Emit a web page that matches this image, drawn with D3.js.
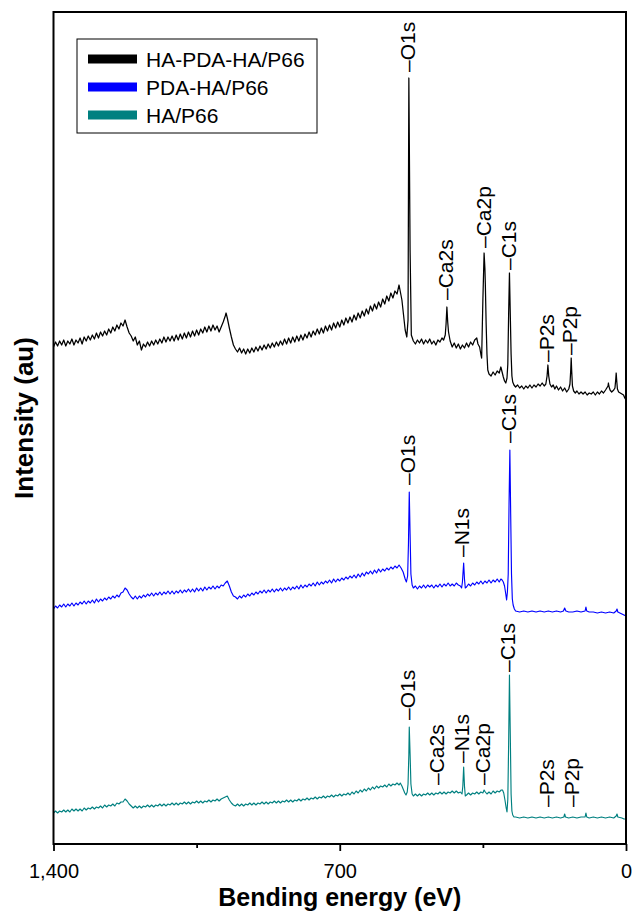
<!DOCTYPE html>
<html><head><meta charset="utf-8">
<script src="https://cdn.jsdelivr.net/npm/d3@7"></script>
<style>body{margin:0;background:#fff}svg{display:block;font-family:Arial,"Liberation Sans",Helvetica,sans-serif}</style>
</head><body><svg id="c" width="636" height="913"></svg>
<script>
// ---------- data ----------
const seriesNames = ["HA-PDA-HA/P66", "PDA-HA/P66", "HA/P66"];
const seriesColors = ["#000000", "#0000ff", "#008080"];
const xTicks = [1400, 700, 0];
const xTickLabels = ["1,400", "700", "0"];
const xMinorTicks = [1050, 350];
const xTitle = "Bending energy (eV)";
const yTitle = "Intensity (au)";

// [binding energy (eV), intensity (au)]
const hapdaha = [
[1400,497],[1395,502],[1390,498],[1385,503],[1380,499],[1375,504],[1370,498],[1365,503],[1360,500],[1355,505],
[1350,499],[1345,504],[1340,501],[1335,506],[1330,500],[1325,507],[1320,503],[1315,508],[1310,504],[1305,509],
[1300,505],[1295,511],[1290,506],[1285,512],[1280,508],[1275,513],[1270,509],[1265,515],[1260,511],[1255,517],
[1250,513],[1245,519],[1240,515],[1235,521],[1230,518],[1225,524],[1220,517],[1215,511],[1210,508],[1205,503],
[1200,507],[1195,499],[1190,503],[1185,494],[1180,500],[1175,497],[1170,502],[1165,498],[1160,503],[1155,499],
[1150,504],[1145,500],[1140,505],[1135,501],[1130,507],[1125,502],[1120,507],[1115,503],[1110,508],[1105,503],
[1100,509],[1095,504],[1090,510],[1085,505],[1080,511],[1075,506],[1070,512],[1065,507],[1060,513],[1055,508],
[1050,514],[1045,509],[1040,515],[1035,511],[1030,517],[1025,512],[1020,518],[1015,513],[1010,519],[1005,514],
[1000,518],[995,512],[990,517],[985,522],[980,528],[978,531],[975,526],[970,516],[965,507],[960,499],
[955,495],[950,492],[945,496],[940,491],[935,495],[930,490],[925,495],[920,491],[915,496],[910,492],
[905,497],[900,493],[895,498],[890,494],[885,499],[880,495],[875,500],[870,496],[865,501],[860,497],
[855,502],[850,498],[845,503],[840,499],[835,505],[830,500],[825,506],[820,501],[815,507],[810,502],
[805,508],[800,503],[795,509],[790,504],[785,510],[780,506],[775,512],[770,507],[765,513],[760,509],
[755,515],[750,510],[745,516],[740,511],[735,518],[730,513],[725,519],[720,514],[715,521],[710,516],
[705,522],[700,517],[695,524],[690,519],[685,526],[680,521],[675,527],[670,522],[665,529],[660,524],
[655,531],[650,526],[645,533],[640,528],[635,535],[630,530],[625,538],[620,533],[615,540],[610,535],
[605,542],[600,537],[595,545],[590,540],[585,548],[580,543],[575,551],[570,546],[565,553],[560,550],
[555,559],[548,544],[540,514],[536,507],[533,524],[531,766],[528,594],[525,509],[520,503],[515,500],
[510,504],[505,501],[500,505],[495,500],[490,504],[485,501],[480,505],[475,500],[470,503],[465,499],
[460,504],[455,502],[450,506],[446,504],[442,509],[440,520],[438,537],[436,522],[434,512],[430,503],
[425,497],[420,501],[415,496],[410,500],[405,495],[400,499],[395,496],[390,501],[385,497],[380,502],
[375,499],[370,504],[365,506],[362,500],[358,497],[355,490],[353,486],[350,544],[347,591],[345,575],
[344,560],[342,520],[340,490],[338,474],[335,470],[330,468],[325,472],[320,469],[315,473],[310,471],
[306,477],[303,472],[300,467],[297,463],[294,461],[291,466],[289,480],[287,530],[285,571],[283,530],
[281,490],[279,468],[277,462],[274,459],[270,457],[265,459],[260,456],[255,458],[250,455],[245,458],
[240,456],[235,459],[230,456],[225,459],[220,457],[215,460],[210,458],[205,461],[200,458],[196,460],
[193,468],[191,479],[189,468],[186,460],[182,457],[178,459],[174,455],[170,458],[165,454],[160,457],
[155,453],[150,456],[145,452],[140,455],[137,460],[135,475],[134,486],[133,475],[131,458],[128,453],
[124,451],[120,453],[115,450],[110,452],[105,450],[100,452],[95,449],[90,451],[85,450],[80,452],
[75,449],[70,452],[65,450],[60,453],[55,451],[50,454],[47,456],[44,458],[43,461],[42,458],
[39,454],[35,452],[30,454],[27,456],[25,465],[24,471],[23,465],[21,455],[18,452],[14,451],
[10,450],[6,449],[3,446],[0,444]
];

const pdaha = [
[1400,235],[1395,238],[1390,236],[1385,239],[1380,237],[1375,240],[1370,237],[1365,240],[1360,238],[1355,241],
[1350,238],[1345,241],[1340,239],[1335,242],[1330,240],[1325,243],[1320,240],[1315,243],[1310,241],[1305,244],
[1300,241],[1295,245],[1290,242],[1285,245],[1280,243],[1275,246],[1270,244],[1265,247],[1260,245],[1255,248],
[1250,246],[1245,249],[1240,247],[1235,251],[1230,252],[1225,256],[1220,254],[1215,250],[1210,247],[1205,245],
[1200,248],[1195,245],[1190,248],[1185,246],[1180,249],[1175,247],[1170,250],[1165,248],[1160,251],[1155,248],
[1150,251],[1145,249],[1140,252],[1135,249],[1130,252],[1125,250],[1120,253],[1115,250],[1110,253],[1105,250],
[1100,253],[1095,251],[1090,254],[1085,251],[1080,254],[1075,252],[1070,255],[1065,252],[1060,255],[1055,252],
[1050,256],[1045,253],[1040,256],[1035,253],[1030,257],[1025,254],[1020,257],[1015,255],[1010,258],[1005,255],
[1000,258],[995,256],[990,259],[985,258],[980,261],[975,263],[970,258],[965,252],[960,248],[955,247],
[950,245],[945,248],[940,246],[935,249],[930,247],[925,250],[920,248],[915,251],[910,249],[905,252],
[900,250],[895,253],[890,251],[885,254],[880,251],[875,254],[870,252],[865,255],[860,252],[855,255],
[850,253],[845,256],[840,253],[835,256],[830,254],[825,257],[820,254],[815,257],[810,255],[805,258],
[800,255],[795,259],[790,256],[785,259],[780,257],[775,260],[770,258],[765,261],[760,258],[755,262],
[750,259],[745,262],[740,260],[735,263],[730,261],[725,264],[720,261],[715,265],[710,262],[705,265],
[700,263],[695,266],[690,264],[685,267],[680,265],[675,268],[670,266],[665,269],[660,266],[655,270],
[650,267],[645,271],[640,268],[635,272],[630,270],[625,273],[620,270],[615,274],[610,271],[605,275],
[600,272],[595,275],[590,273],[585,276],[580,274],[575,277],[570,275],[565,278],[560,276],[555,279],
[550,276],[545,272],[540,265],[537,262],[534,268],[532,300],[530,352],[528,310],[526,270],[523,259],
[520,256],[515,258],[510,255],[505,258],[500,256],[495,259],[490,256],[485,259],[480,257],[475,259],
[470,256],[465,259],[460,257],[455,260],[450,257],[445,260],[440,258],[435,261],[430,258],[425,260],
[420,258],[415,261],[410,259],[405,258],[402,256],[400,262],[397,281],[395,265],[393,256],[390,257],
[385,260],[380,258],[375,261],[370,259],[365,262],[360,260],[355,263],[350,260],[345,263],[340,261],
[335,264],[330,261],[325,264],[320,262],[315,265],[310,262],[306,265],[303,264],[300,262],[297,258],
[294,250],[292,244],[290,252],[288,270],[286,340],[284,394],[282,330],[280,270],[278,245],[276,239],
[273,235],[270,233],[260,232],[250,233],[240,232],[230,233],[220,232],[210,233],[200,232],[190,233],
[180,232],[170,233],[160,232],[153,233],[150,236],[147,233],[140,232],[130,232],[120,233],[110,232],
[100,233],[98,237],[96,233],[90,232],[80,232],[70,231],[60,232],[50,231],[40,232],[30,231],
[24,233],[22,235],[20,232],[10,230],[5,229],[0,228]
];

const ha = [
[1400,31],[1395,33],[1390,31],[1385,33],[1380,32],[1375,34],[1370,32],[1365,34],[1360,32],[1355,35],
[1350,33],[1345,35],[1340,33],[1335,35],[1330,33],[1325,36],[1320,34],[1315,36],[1310,35],[1305,37],
[1300,35],[1295,37],[1290,36],[1285,38],[1280,36],[1275,39],[1270,37],[1265,39],[1260,38],[1255,40],
[1250,38],[1245,41],[1240,40],[1235,42],[1230,42],[1225,45],[1220,43],[1215,40],[1210,38],[1205,36],
[1200,38],[1195,36],[1190,38],[1185,36],[1180,38],[1175,37],[1170,39],[1165,37],[1160,39],[1155,37],
[1150,39],[1145,38],[1140,40],[1135,38],[1130,40],[1125,38],[1120,40],[1115,39],[1110,41],[1105,39],
[1100,41],[1095,39],[1090,41],[1085,40],[1080,42],[1075,40],[1070,42],[1065,40],[1060,42],[1055,41],
[1050,43],[1045,41],[1040,43],[1035,41],[1030,43],[1025,42],[1020,44],[1015,42],[1010,44],[1005,43],
[1000,45],[995,43],[990,45],[985,46],[980,47],[975,48],[970,44],[965,41],[960,39],[955,38],
[950,40],[945,38],[940,40],[935,38],[930,40],[925,39],[920,41],[915,39],[910,41],[905,39],
[900,41],[895,40],[890,42],[885,40],[880,42],[875,40],[870,42],[865,41],[860,43],[855,41],
[850,43],[845,41],[840,43],[835,42],[830,44],[825,42],[820,44],[815,42],[810,44],[805,43],
[800,45],[795,43],[790,45],[785,44],[780,46],[775,44],[770,46],[765,45],[760,47],[755,45],
[750,47],[745,46],[740,48],[735,46],[730,48],[725,47],[720,49],[715,47],[710,49],[705,48],
[700,50],[695,48],[690,50],[685,49],[680,51],[675,49],[670,52],[665,50],[660,53],[655,51],
[650,54],[645,52],[640,55],[635,53],[630,56],[625,54],[620,57],[615,55],[610,58],[605,56],
[600,58],[595,57],[590,59],[585,57],[580,60],[575,58],[570,60],[565,59],[560,61],[555,59],
[552,61],[548,58],[545,55],[541,51],[538,49],[535,52],[533,60],[531,90],[530,117],[528,90],
[526,60],[523,50],[520,48],[515,50],[510,48],[505,50],[500,48],[495,50],[490,49],[485,51],
[480,49],[475,51],[470,49],[465,51],[460,50],[455,52],[450,50],[445,52],[440,50],[435,52],
[430,51],[425,53],[420,51],[415,53],[410,51],[405,52],[401,50],[399,58],[397,77],[395,58],
[393,48],[390,49],[385,51],[380,49],[375,51],[370,50],[365,52],[360,50],[355,52],[350,51],
[347,54],[344,52],[340,50],[335,52],[330,50],[325,53],[320,51],[315,53],[310,52],[305,54],
[302,54],[299,51],[296,44],[293,36],[291,32],[289,45],[287,100],[285,169],[283,110],[281,50],
[279,33],[277,29],[274,27],[270,27],[260,26],[250,27],[240,26],[230,27],[220,26],[210,27],
[200,26],[190,27],[180,26],[170,27],[160,26],[152,27],[150,30],[148,27],[140,26],[130,27],
[120,26],[110,27],[100,27],[98,31],[96,27],[90,26],[80,27],[70,26],[60,27],[50,26],
[40,27],[30,26],[24,28],[22,30],[20,27],[10,26],[5,25],[0,25]
];

// peak labels: [text, energy (eV), intensity where label starts]
const hapdahaPeaks = [["O1s",530,772],["Ca2s",438,544],["Ca2p",345,596],["C1s",284,574],["P2s",190,482],["P2p",133,489]];
const pdahaPeaks = [["O1s",530,359],["N1s",397,287],["C1s",284,401]];
const haPeaks = [["O1s",530,124],["Ca2s",460,59],["N1s",397,81],["Ca2p",347,59],["C1s",285,172],["P2s",191,37],["P2p",130,37]];

// ---------- drawing ----------
const svg = d3.select("#c");
const L = 53.5, R = 626, T = 12, B = 844;
const x = d3.scaleLinear().domain([1400, 0]).range([L, R]);
const y = d3.scaleLinear().domain([0, 832]).range([B, T]);

const allSeries = [hapdaha, pdaha, ha];
const allPeaks = [hapdahaPeaks, pdahaPeaks, haPeaks];
const line = d3.line().x(d => x(d[0])).y(d => y(d[1]));

allSeries.forEach((s, i) => {
  svg.append("path").datum(s).attr("d", line)
    .attr("fill", "none").attr("stroke", seriesColors[i])
    .attr("stroke-width", i === 0 ? 1.25 : 1.15).attr("stroke-linejoin", "round");
});

const labFs = 21;
allPeaks.forEach(pk => {
  pk.forEach(p => {
    const px = x(p[1]) + 0.27 * labFs, py = y(p[2]);
    svg.append("text").attr("transform", `translate(${px},${py}) rotate(-90)`)
      .attr("font-size", labFs).attr("fill", "#000").attr("text-anchor", "start")
      .text("\u2013" + p[0]);
  });
});

// frame
svg.append("rect").attr("x", L).attr("y", T).attr("width", R - L).attr("height", B - T)
  .attr("fill", "none").attr("stroke", "#000").attr("stroke-width", 2);

// x axis
const ax = svg.append("g").attr("transform", `translate(0,${B})`)
  .call(d3.axisBottom(x).tickValues(xTicks).tickFormat((d, i) => xTickLabels[i]).tickSize(7).tickSizeOuter(0));
ax.select(".domain").remove();
ax.selectAll(".tick line").attr("stroke", "#000").attr("stroke-width", 1.8);
ax.selectAll(".tick text").attr("font-size", 20).attr("font-family", "Arial, 'Liberation Sans', sans-serif").attr("y", 20).attr("fill", "#000");
const axm = svg.append("g").attr("transform", `translate(0,${B})`)
  .call(d3.axisBottom(x).tickValues(xMinorTicks).tickFormat("").tickSize(4).tickSizeOuter(0));
axm.select(".domain").remove();
axm.selectAll(".tick line").attr("stroke", "#000").attr("stroke-width", 1.8);

svg.append("text").attr("x", (L + R) / 2).attr("y", 906).attr("text-anchor", "middle")
  .attr("font-size", 25).attr("font-weight", "bold").text(xTitle);
svg.append("text").attr("transform", "translate(33,418) rotate(-90)").attr("text-anchor", "middle")
  .attr("font-size", 26).attr("font-weight", "bold").text(yTitle);

// legend
const lg = svg.append("g");
lg.append("rect").attr("x", 77).attr("y", 39).attr("width", 240).attr("height", 94)
  .attr("fill", "#fff").attr("stroke", "#000").attr("stroke-width", 1);
seriesNames.forEach((n, i) => {
  const cy = 59 + i * 28;
  lg.append("rect").attr("x", 88).attr("y", cy - 4.5).attr("width", 49).attr("height", 9).attr("fill", seriesColors[i]);
  lg.append("text").attr("x", 146).attr("y", cy + 7.5).attr("font-size", 21).attr("fill", "#000").text(n);
});
</script></body></html>
